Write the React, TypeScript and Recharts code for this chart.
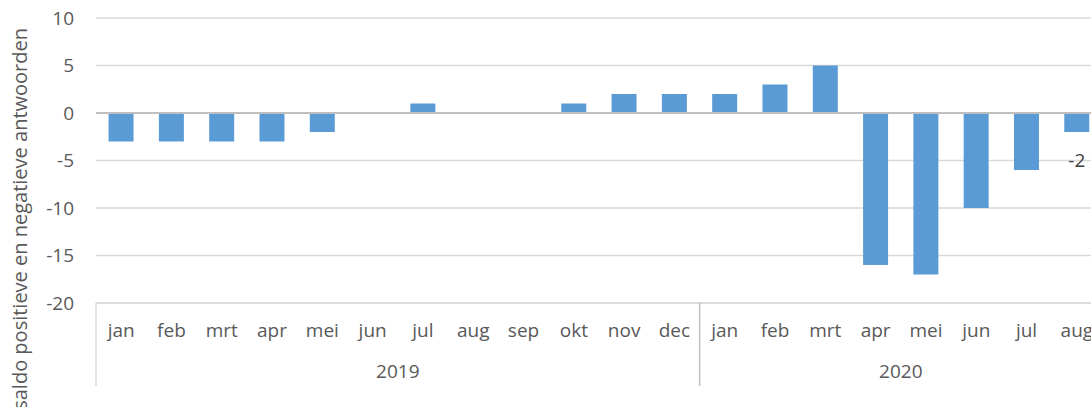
import React from 'react';
import { BarChart, Bar, XAxis, YAxis, CartesianGrid, ReferenceLine, LabelList } from 'recharts';

const years = ['2019', '2020'];
const months2019 = ['jan', 'feb', 'mrt', 'apr', 'mei', 'jun', 'jul', 'aug', 'sep', 'okt', 'nov', 'dec'];
const months2020 = ['jan', 'feb', 'mrt', 'apr', 'mei', 'jun', 'jul', 'aug'];
const saldo2019 = [-3, -3, -3, -3, -2, 0, 1, 0, 0, 1, 2, 2];
const saldo2020 = [2, 3, 5, -16, -17, -10, -6, -2];
const yTicks = [-20, -15, -10, -5, 0, 5, 10];
const yLabel = 'saldo positieve en negatieve antwoorden';

interface Row {
  key: string;
  month: string;
  year: string;
  pos: number;
  groupSize: number;
  saldo: number;
  tag?: number;
}

const data: Row[] = [
  ...months2019.map((m, i) => ({ key: `2019-${m}`, month: m, year: years[0], pos: i, groupSize: months2019.length, saldo: saldo2019[i] })),
  ...months2020.map((m, i) => ({ key: `2020-${m}`, month: m, year: years[1], pos: i, groupSize: months2020.length, saldo: saldo2020[i] })),
];
// only the last bar carries a data label
data[data.length - 1].tag = data[data.length - 1].saldo;

const textColor = '#595959';
const font = "'Open Sans', sans-serif";
const fs = 19;

const MonthTick = (props: any) => {
  const { x, y, payload } = props;
  const idx = payload.index ?? props.index;
  const row = data[idx];
  if (!row) return null;
  const half = payload.offset || 25;
  const mid = Math.floor(row.groupSize / 2);
  let yearX: number | null = null;
  if (row.pos === mid) yearX = row.groupSize % 2 === 0 ? x - half : x;
  return (
    <g>
      <text x={x} y={y + 34} textAnchor="middle" fill={textColor} fontSize={fs} fontFamily={font}>
        {row.month}
      </text>
      {row.pos === 0 && (
        <line x1={x - half} x2={x - half} y1={y} y2={y + 83} stroke={idx === 0 ? '#d9d9d9' : '#bfbfbf'} strokeWidth={1.5} />
      )}
      {yearX !== null && (
        <text x={yearX} y={y + 75} textAnchor="middle" fill={textColor} fontSize={fs} fontFamily={font}>
          {row.year}
        </text>
      )}
    </g>
  );
};

const LastLabel = (props: any) => {
  const { x, y, width, height, value } = props;
  if (value === undefined || value === null) return null;
  const bottom = Math.max(y, y + height);
  return (
    <text x={x + width / 2} y={bottom + 35} textAnchor="middle" fill="#404040" fontSize={fs} fontFamily={font}>
      {value}
    </text>
  );
};

const YTitle = () => (
  <text transform="translate(27,28) rotate(-90)" textAnchor="end" fill={textColor} fontSize={20} fontFamily={font}>
    {yLabel}
  </text>
);

export default function App() {
  return (
    <div style={{ position: 'absolute', left: 0, top: 0, width: 1091, height: 407, overflow: 'hidden', background: '#fff' }}>
      <BarChart width={1110} height={407} data={data} margin={{ top: 18, right: 8, bottom: 0, left: 0 }} barCategoryGap="25%">
        <CartesianGrid horizontal vertical={false} stroke="#d9d9d9" strokeWidth={1.5} />
        <YAxis
          type="number"
          domain={[-20, 10]}
          ticks={yTicks}
          width={96}
          axisLine={false}
          tickLine={false}
          tickSize={0}
          tickMargin={22}
          tick={{ fill: textColor, fontSize: fs, fontFamily: font }}
          label={<YTitle />}
        />
        <XAxis dataKey="key" height={104} interval={0} axisLine={{ stroke: '#d9d9d9', strokeWidth: 1.5 }} tickLine={false} tickSize={0} tickMargin={0} tick={<MonthTick />} />
        <ReferenceLine y={0} stroke="#bfbfbf" strokeWidth={2} />
        <Bar dataKey="saldo" fill="#5B9BD5" isAnimationActive={false}>
          <LabelList dataKey="tag" content={<LastLabel />} />
        </Bar>
      </BarChart>
    </div>
  );
}
